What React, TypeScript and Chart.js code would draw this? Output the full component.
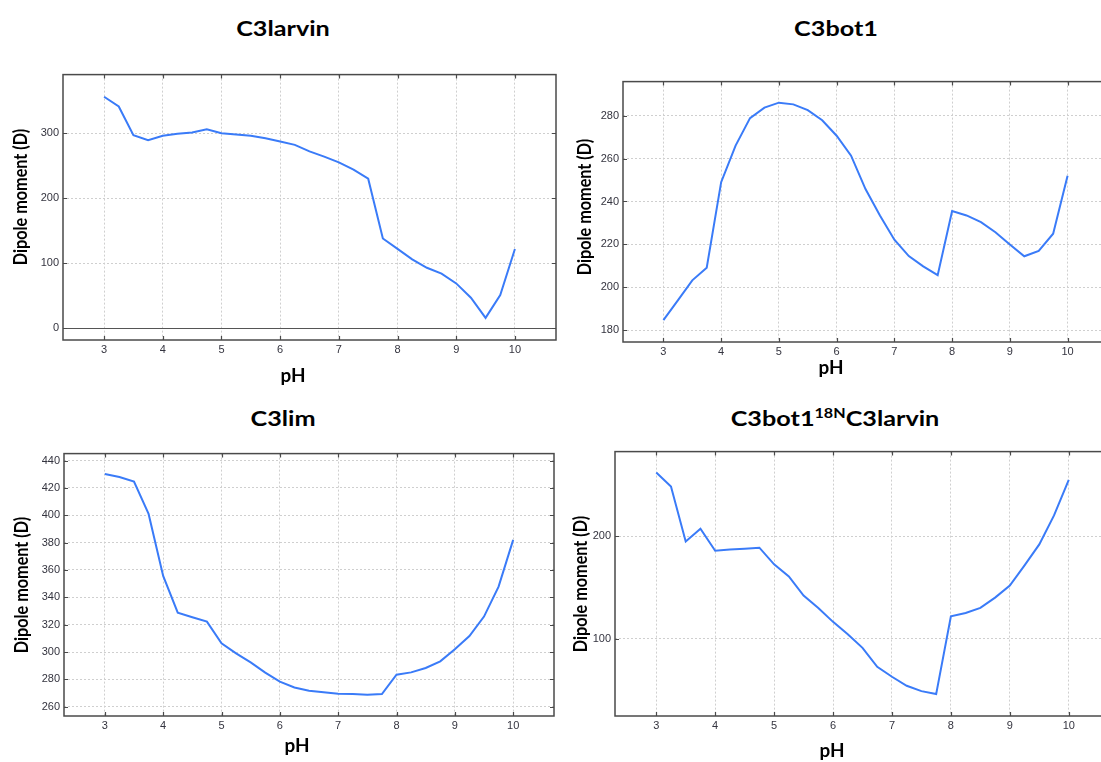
import React, { useEffect, useRef } from "react";
import { Chart, registerables } from "chart.js";

Chart.register(...registerables);

// ---------- data ----------
const PH = [3, 3.25, 3.5, 3.75, 4, 4.25, 4.5, 4.75, 5, 5.25, 5.5, 5.75, 6, 6.25, 6.5, 6.75, 7, 7.25, 7.5, 7.75, 8, 8.25, 8.5, 8.75, 9, 9.25, 9.5, 9.75, 10];
const X_TICKS = [3, 4, 5, 6, 7, 8, 9, 10];

const C3LARVIN = [356, 341, 297, 289, 296, 299, 301, 306, 300, 298, 296, 292, 287, 282, 272, 264, 255, 244, 230, 138, 122, 106, 93, 84, 69, 47, 16, 51, 122];
const C3BOT1 = [184.8, 194, 203.3, 209.2, 249, 266, 278.8, 283.7, 286, 285.2, 282.5, 277.8, 270.6, 261.3, 245.8, 233.5, 222.2, 214.6, 209.8, 205.7, 235.6, 233.5, 230.4, 225.7, 220, 214.5, 217, 225, 252];
const C3LIM = [430.2, 428, 424.6, 401, 355.6, 328.8, 325.4, 322.2, 306.3, 299, 292.4, 284.9, 278.3, 274.1, 271.7, 270.5, 269.5, 269.3, 268.8, 269.3, 283.4, 285.1, 288.3, 293.2, 302, 311.7, 325.9, 347.8, 382];
const C3BOT1_18N_C3LARVIN = [262.3, 248.7, 195.1, 207.5, 186, 187.3, 188, 189, 172.7, 161, 142.2, 130.2, 116.6, 104.5, 91.2, 72.7, 63, 54.2, 49, 46.1, 122.1, 125.3, 130.2, 140.3, 152, 171.8, 192.2, 220.5, 255.2];

const Y_TICKS_1 = [0, 100, 200, 300];
const Y_TICKS_2 = [180, 200, 220, 240, 260, 280];
const Y_TICKS_3 = [260, 280, 300, 320, 340, 360, 380, 400, 420, 440];
const Y_TICKS_4 = [100, 200];

const X_TITLE = "pH";
const Y_TITLE = "Dipole moment (D)";

// ---------- style ----------
const BLUE = "#3a7bf8";
const GRID = "#cfcfcf";
const FRAME = "#4a4a4a";
const TICK_COLOR = "#34343f";
const TEXT_FONT = "Lato, 'Open Sans', sans-serif";
const TICK_FONT = "'Liberation Sans', Arial, sans-serif";
const X_MIN = 2.3;
const X_MAX = 10.7;
const YW = 50; // y axis width
const XH = 30; // x axis height
const PAD_T = 10;
const PAD_R = 10;
const TICK_LEN = 4;

const framePlugin = {
  id: "frame",
  beforeDatasetsDraw(chart: any, _args: any, opts: any) {
    if (!opts || !opts.zero) return;
    const { ctx, chartArea, scales } = chart;
    const py = Math.round(scales.y.getPixelForValue(0)) + 0.5;
    ctx.save();
    ctx.strokeStyle = "#555";
    ctx.lineWidth = 1;
    ctx.beginPath();
    ctx.moveTo(chartArea.left, py);
    ctx.lineTo(chartArea.right, py);
    ctx.stroke();
    ctx.restore();
  },
  afterDatasetsDraw(chart: any) {
    const { ctx, chartArea, scales } = chart;
    const { left, top, right, bottom } = chartArea;
    ctx.save();
    ctx.strokeStyle = FRAME;
    ctx.lineWidth = 1.5;
    ctx.strokeRect(left, top, right - left, bottom - top);
    ctx.lineWidth = 1.2;
    ctx.beginPath();
    scales.x.ticks.forEach((t: any) => {
      const px = Math.round(scales.x.getPixelForValue(t.value)) + 0.5;
      ctx.moveTo(px, top);
      ctx.lineTo(px, top + TICK_LEN);
      ctx.moveTo(px, bottom);
      ctx.lineTo(px, bottom - TICK_LEN);
    });
    scales.y.ticks.forEach((t: any) => {
      const py = Math.round(scales.y.getPixelForValue(t.value)) + 0.5;
      ctx.moveTo(left, py);
      ctx.lineTo(left + TICK_LEN, py);
      ctx.moveTo(right, py);
      ctx.lineTo(right - TICK_LEN, py);
    });
    ctx.stroke();
    ctx.restore();
  },
};

type Box = { l: number; t: number; w: number; h: number };

function Panel(props: { values: number[]; yTicks: number[]; yMin: number; yMax: number; zero?: boolean; box: Box }) {
  const ref = useRef<HTMLCanvasElement>(null);
  const { values, yTicks, yMin, yMax, zero, box } = props;
  useEffect(() => {
    const tickFont = { family: TICK_FONT, size: 11 };
    const chart = new Chart(ref.current as HTMLCanvasElement, {
      type: "line",
      data: {
        datasets: [
          {
            data: PH.map((x, i) => ({ x, y: values[i] })),
            borderColor: BLUE,
            borderWidth: 2,
            pointRadius: 0,
            tension: 0,
            fill: false,
          },
        ],
      },
      options: {
        animation: false,
        responsive: false,
        devicePixelRatio: 1,
        layout: { padding: { top: PAD_T, right: PAD_R, left: 0, bottom: 0 } },
        plugins: {
          legend: { display: false },
          tooltip: { enabled: false },
          title: { display: false },
          frame: { zero: !!zero },
        } as any,
        scales: {
          x: {
            type: "linear",
            min: X_MIN,
            max: X_MAX,
            afterBuildTicks: (s: any) => {
              s.ticks = X_TICKS.map((v) => ({ value: v }));
            },
            afterFit: (s: any) => {
              s.height = XH;
            },
            grid: { color: GRID, lineWidth: 1, drawTicks: false },
            border: { display: false, dash: [2, 2] },
            ticks: {
              padding: 3,
              color: TICK_COLOR,
              font: tickFont,
              autoSkip: false,
              maxRotation: 0,
              callback: (v: any) => String(v),
            },
          },
          y: {
            type: "linear",
            min: yMin,
            max: yMax,
            afterBuildTicks: (s: any) => {
              s.ticks = yTicks.map((v) => ({ value: v }));
            },
            afterFit: (s: any) => {
              s.width = YW;
            },
            grid: { color: GRID, lineWidth: 1, drawTicks: false },
            border: { display: false, dash: [2, 2] },
            ticks: {
              padding: 4,
              color: TICK_COLOR,
              font: tickFont,
              autoSkip: false,
              callback: (v: any) => String(v),
            },
          },
        },
      } as any,
      plugins: [framePlugin as any],
    });
    return () => chart.destroy();
  }, []);
  return (
    <canvas
      ref={ref}
      width={box.w}
      height={box.h}
      style={{ position: "absolute", left: box.l, top: box.t, width: box.w, height: box.h }}
    />
  );
}

function Label(props: { x: number; y: number; size: number; sx?: number; rotate?: boolean; children: any }) {
  const { x, y, size, sx = 1, rotate, children } = props;
  return (
    <div
      style={{
        position: "absolute",
        left: x,
        top: y,
        fontFamily: TEXT_FONT,
        fontWeight: 700,
        fontSize: size,
        lineHeight: 1,
        whiteSpace: "nowrap",
        color: "#000",
        transform: `translate(-50%, -50%)${rotate ? " rotate(-90deg)" : ""} scaleX(${sx})`,
      }}
    >
      {children}
    </div>
  );
}

// chart-area-driven boxes: canvas left = plotLeft - YW, top = plotTop - PAD_T
const BOX_1: Box = { l: 63 - YW, t: 74 - PAD_T, w: 556 + PAD_R - (63 - YW), h: 340 + XH - (74 - PAD_T) };
const BOX_2: Box = { l: 623 - YW, t: 81 - PAD_T, w: 1108 + PAD_R - (623 - YW), h: 342 + XH - (81 - PAD_T) };
const BOX_3: Box = { l: 64 - YW, t: 453 - PAD_T, w: 554 + PAD_R - (64 - YW), h: 716 + XH - (453 - PAD_T) };
const BOX_4: Box = { l: 615 - YW, t: 451 - PAD_T, w: 1110 + PAD_R - (615 - YW), h: 716 + XH - (451 - PAD_T) };

export default function App() {
  return (
    <div
      style={{
        position: "absolute",
        left: 0,
        top: 0,
        width: 1101,
        height: 762,
        overflow: "hidden",
        background: "#fff",
      }}
    >
      <Panel values={C3LARVIN} yTicks={Y_TICKS_1} yMin={-18} yMax={390} zero box={BOX_1} />
      <Panel values={C3BOT1} yTicks={Y_TICKS_2} yMin={174.6} yMax={295.8} box={BOX_2} />
      <Panel values={C3LIM} yTicks={Y_TICKS_3} yMin={253.2} yMax={445.1} box={BOX_3} />
      <Panel values={C3BOT1_18N_C3LARVIN} yTicks={Y_TICKS_4} yMin={24.7} yMax={282.8} box={BOX_4} />

      <Label x={283} y={27} size={21} sx={1.2}>C3larvin</Label>
      <Label x={836} y={27} size={21} sx={1.2}>C3bot1</Label>
      <Label x={283} y={417} size={21} sx={1.2}>C3lim</Label>
      <Label x={835} y={417} size={21} sx={1.2}>
        C3bot1
        <span style={{ fontSize: "0.64em", verticalAlign: "0.55em", lineHeight: 0 }}>18N</span>
        C3larvin
      </Label>

      <Label x={20} y={197} size={18} sx={0.9} rotate>{Y_TITLE}</Label>
      <Label x={584} y={207} size={18} sx={0.9} rotate>{Y_TITLE}</Label>
      <Label x={21} y={585} size={18} sx={0.9} rotate>{Y_TITLE}</Label>
      <Label x={580} y={584} size={18} sx={0.9} rotate>{Y_TITLE}</Label>

      <Label x={293} y={375} size={18} sx={1.05}>{X_TITLE}</Label>
      <Label x={831} y={367} size={18} sx={1.05}>{X_TITLE}</Label>
      <Label x={297} y={745} size={18} sx={1.05}>{X_TITLE}</Label>
      <Label x={832} y={750} size={18} sx={1.05}>{X_TITLE}</Label>
    </div>
  );
}
